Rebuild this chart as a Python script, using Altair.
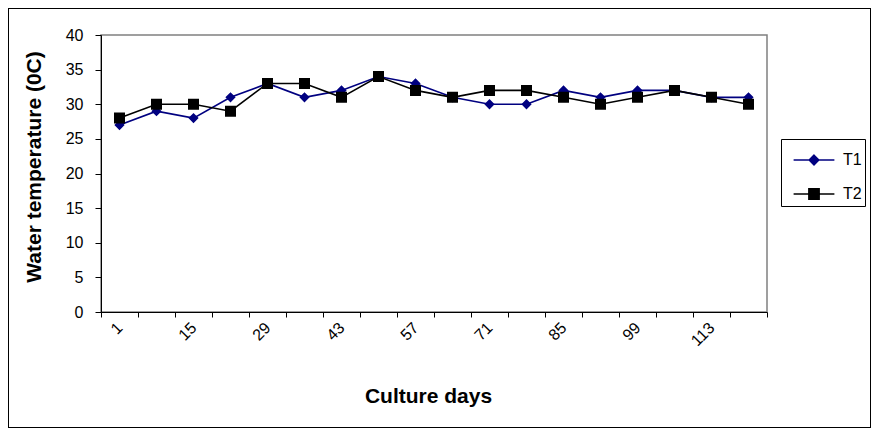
import altair as alt
import pandas as pd

days = list(range(1, 121, 7))
t1 = [27, 29, 28, 31, 33, 31, 32, 34, 33, 31, 30, 30, 32, 31, 32, 32, 31, 31]
t2 = [28, 30, 30, 29, 33, 33, 31, 34, 32, 31, 32, 32, 31, 30, 31, 32, 31, 30]
series = ["T1", "T2"]
colors = ["#000080", "#000000"]
y_ticks = [0, 5, 10, 15, 20, 25, 30, 35, 40]

rows = []
for d, a, b in zip(days, t1, t2):
    rows.append({"day": d, "series": "T1", "temp": a})
    rows.append({"day": d, "series": "T2", "temp": b})
df = pd.DataFrame(rows)

# custom legend/marker shapes: a line segment (stroke only) plus a filled marker
diamond = "M-1.2,0L1.2,0M0,-0.28L0.28,0L0,0.28L-0.28,0Z"
square = "M-1.2,0L1.2,0M-0.3,-0.3L0.3,-0.3L0.3,0.3L-0.3,0.3Z"

W, H = 666, 277
FONT = "Liberation Sans"

x_enc = alt.X(
    "day:O",
    scale=alt.Scale(paddingInner=0, paddingOuter=0),
    title="Culture days",
    axis=alt.Axis(
        tickBand="extent",
        labelAngle=-45,
        labelAlign="right",
        labelBaseline="middle",
        labelExpr="(datum.value - 1) % 14 == 0 ? datum.label : ''",
        labelFontSize=16,
        labelPadding=8,
        tickSize=5,
        titleFontSize=21,
        titlePadding=37,
        titleX=W / 2 - 6,
        labelOverlap=False,
    ),
)
y_enc = alt.Y(
    "temp:Q",
    scale=alt.Scale(domain=[0, 40], nice=False),
    title="Water temperature (0C)",
    axis=alt.Axis(
        values=y_ticks,
        labelFontSize=16,
        tickSize=6,
        labelPadding=12,
        titleFontSize=21,
        titlePadding=21,
        titleY=H / 2 - 7,
        grid=False,
    ),
)

color_scale = alt.Scale(domain=series, range=colors)
legend = alt.Legend(
    title=None,
    orient="none",
    legendX=680,
    legendY=104,
    strokeColor="black",
    padding=3,
    labelFont=FONT,
    labelFontSize=16,
    labelColor="black",
    symbolSize=1156,
    symbolStrokeWidth=1.6,
    labelOffset=11,
    rowPadding=8,
    symbolOffset=12,
)
base = alt.Chart(df)

lines = base.mark_line(strokeWidth=1.6).encode(
    x=x_enc,
    y=y_enc,
    stroke=alt.Stroke("series:N", scale=color_scale, legend=legend),
)

points = base.mark_point(filled=True, size=1344, opacity=1, strokeWidth=0).encode(
    x=x_enc,
    y=y_enc,
    fill=alt.Fill("series:N", scale=color_scale, legend=legend),
    stroke=alt.Stroke("series:N", scale=color_scale, legend=legend),
    shape=alt.Shape("series:N", scale=alt.Scale(domain=series, range=[diamond, square]), legend=legend),
)

frame = base.mark_rect(filled=False, stroke="black", strokeWidth=1).encode(
    x=alt.value(-92.5), x2=alt.value(W + 103.5), y=alt.value(-26.5), y2=alt.value(H + 115.5)
)

chart = (
    alt.layer(frame, lines, points)
    .properties(
        width=W,
        height=H,
        padding={"left": 93, "top": 27, "right": 104, "bottom": 116},
        autosize=alt.AutoSizeParams(type="none"),
    )
    .configure_view(stroke="#808080", strokeWidth=1.5)
    .configure_axis(
        labelFont=FONT,
        titleFont=FONT,
        labelColor="black",
        titleColor="black",
        domainColor="black",
        tickColor="black",
        titleFontWeight="bold",
    )
)

chart.save("out.html", embed_options={"renderer": "svg", "actions": False})
